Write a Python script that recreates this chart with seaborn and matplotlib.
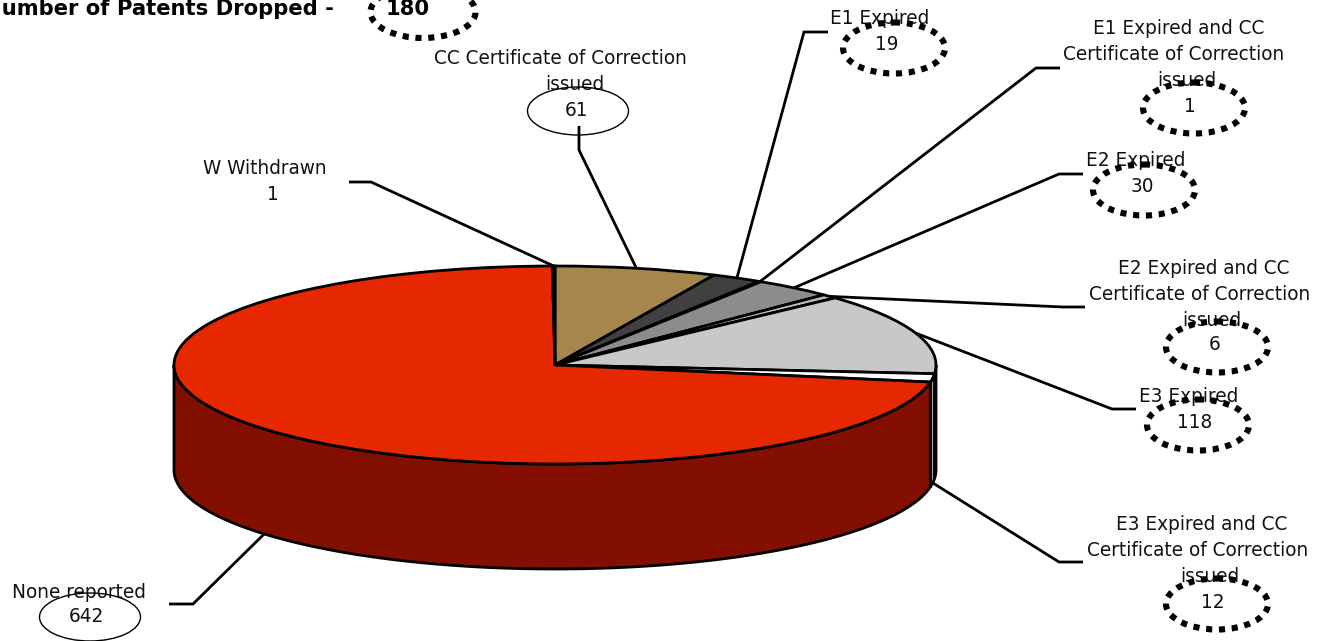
import numpy as np
import matplotlib
matplotlib.use("Agg")
import matplotlib.pyplot as plt
from matplotlib.patches import Ellipse, Polygon
from matplotlib.transforms import Affine2D
import seaborn as sns

# Patent status counts, clockwise from twelve o'clock
statuses = ["CC Certificate of Correction\nissued", "E1 Expired",
            "E1 Expired and CC\nCertificate of Correction\nissued", "E2 Expired",
            "E2 Expired and CC\nCertificate of Correction\nissued", "E3 Expired",
            "E3 Expired and CC\nCertificate of Correction\nissued", "None reported",
            "W Withdrawn"]
counts = [61, 19, 1, 30, 6, 118, 12, 642, 1]
top_colors = ["#A5874E", "#404040", "#A01200", "#8C8C8C", "#BDBDBD",
              "#C8C8C8", "#FFFFFF", "#E62800", "#E62800"]
side_colors = ["#6B5730", "#202020", "#500800", "#505050", "#707070",
               "#707070", "#A0A0A0", "#820F00", "#820F00"]
dropped_total = 180

W, H = 1317, 641
CX, CY, RX, RY, DEPTH = 555, 365, 381, 99, 105

# Label layout in pixels: text centre per line, leader elbow and start, badge centre
label_lines = [
    [(560, 58), (575, 84)],
    [(880, 19)],
    [(1179, 29), (1174, 55), (1187, 81)],
    [(1136, 161)],
    [(1204, 268), (1200, 294), (1212, 320)],
    [(1189, 397)],
    [(1202, 524), (1198, 550), (1210, 576)],
    [(79, 592)],
    [(265, 169)],
]
leader_start = [(579, 126), (828, 32), (1060, 68), (1083, 174), (1085, 307),
                (1136, 409), (1083, 562), (169, 604), (349, 182)]
leader_elbow = [(579, 150), (804, 32), (1036, 68), (1059, 174), (1063, 307),
                (1112, 409), (1059, 562), (193, 604), (371, 182)]
count_pos = [(577, 110), (887, 44), (1190, 107), (1142, 187), (1215, 345),
             (1195, 423), (1213, 602), (86, 617), (273, 195)]
badge_pos = [(578, 111), (894, 48), (1194, 108), (1144, 190), (1217, 347),
             (1198, 425), (1217, 604), (90, 617), None]
badge_dotted = [False, True, True, True, True, True, True, False, False]

sns.set_style("white")
fig = plt.figure(figsize=(W / 100, H / 100), dpi=100)
ax = fig.add_axes([0, 0, 1, 1])

values = np.array(counts, dtype=float)
edges = np.concatenate([[0], np.cumsum(values)]) / values.sum() * 360
DOTS = dict(fill=False, edgecolor="black", lw=4.4, linestyle=(0, (1, 1.1)), zorder=6)
LABEL = dict(ha="center", va="center", fontsize=13.35, color="#111111", zorder=5)
HEAD = dict(va="center", fontsize=15.2, fontweight="bold", color="black", zorder=5)


def rim(theta, drop=0.0):
    """Pixel position on the pie rim, theta in degrees clockwise from the top."""
    t = np.radians(theta)
    return CX + RX * np.sin(t), CY - RY * np.cos(t) + drop


# Top face of the pie, squashed into an ellipse
wedges, _ = ax.pie(values, colors=top_colors, startangle=90, counterclock=False,
                   wedgeprops=dict(edgecolor="black", linewidth=2.0))
squash = Affine2D().scale(RX, -RY).translate(CX, CY) + ax.transData
for wedge in wedges:
    wedge.set_transform(squash)
    wedge.set_zorder(3)

ax.set_aspect("auto")
ax.set_xlim(0, W)
ax.set_ylim(H, 0)
ax.axis("off")

# Front wall: one strip for each slice portion facing the viewer
for start, stop, shade in zip(edges[:-1], edges[1:], side_colors):
    a, b = max(start, 90), min(stop, 270)
    if b <= a:
        continue
    th = np.linspace(a, b, 120)
    upper = np.column_stack(rim(th))
    lower = np.column_stack(rim(th[::-1], DEPTH))
    ax.add_patch(Polygon(np.vstack([upper, lower]), closed=True, facecolor=shade,
                         edgecolor="black", linewidth=2.0, zorder=2))

# Leader lines run from the label to the middle of each slice
for i, name in enumerate(statuses):
    mid = (edges[i] + edges[i + 1]) / 2
    on_front = 90 < mid < 270
    ax_x, ax_y = rim(mid, DEPTH if on_front else 0)
    xs = [leader_start[i][0], leader_elbow[i][0], ax_x]
    ys = [leader_start[i][1], leader_elbow[i][1], ax_y]
    ax.plot(xs, ys, color="black", lw=2.0, zorder=4, solid_joinstyle="miter",
            solid_capstyle="butt")
    for line, pos in zip(name.split("\n"), label_lines[i]):
        ax.text(*pos, line, **LABEL)
    ax.text(*count_pos[i], str(counts[i]), **LABEL)
    if badge_pos[i] is not None:
        if badge_dotted[i]:
            ax.add_patch(Ellipse(badge_pos[i], 102, 51, **DOTS))
        else:
            ax.add_patch(Ellipse(badge_pos[i], 101, 48, fill=False, edgecolor="black",
                                 lw=1.0, zorder=6))

# Headline with its ringed total, partly cut by the canvas edge
ax.text(334, 9, "Number of Patents Dropped -", ha="right", **HEAD)
ax.text(408, 9, str(dropped_total), ha="center", **HEAD)
ax.add_patch(Ellipse((423, 12), 105, 52, **DOTS))

fig.savefig("out.png", dpi=100, facecolor="white")
